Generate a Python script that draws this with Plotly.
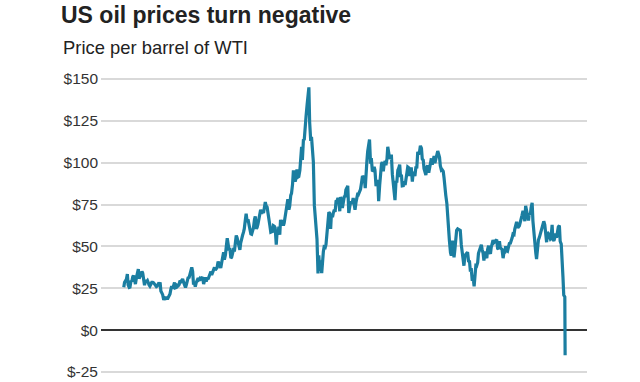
import plotly.graph_objects as go

# Semi-monthly WTI prices (USD/barrel), values on the 15th and 28th of each month
y2000 = [25.6, 28.5, 29.5, 30.4, 33.5, 27.0, 25.5, 25.7, 29.5, 29.0, 32.0, 32.5, 30.0, 27.5, 31.5, 33.0, 36.5, 30.8, 32.5, 34.5, 35.0, 34.0, 28.5, 26.8]
y2001 = [30.0, 28.7, 29.5, 27.4, 27.0, 26.3, 27.5, 28.5, 28.5, 28.3, 27.5, 26.3, 26.0, 26.3, 27.5, 27.2, 28.5, 23.4, 22.0, 21.2, 18.0, 19.4, 19.0, 19.8]
y2002 = [18.5, 19.5, 20.5, 21.6, 24.5, 26.3, 24.8, 27.3, 28.5, 25.3, 25.5, 26.8, 26.5, 27.0, 29.5, 28.9, 30.0, 30.5, 28.5, 27.2, 25.5, 26.9, 29.0, 31.2]
y2003 = [31.5, 33.5, 36.0, 37.5, 35.0, 28.0, 28.0, 26.0, 28.5, 29.5, 31.0, 30.2, 31.0, 30.5, 31.5, 31.6, 27.5, 29.2, 31.5, 29.1, 31.0, 30.4, 32.5, 32.5]
y2004 = [35.0, 33.0, 34.5, 36.2, 37.5, 35.8, 37.5, 37.4, 41.0, 39.9, 38.0, 37.1, 40.5, 43.8, 46.5, 42.1, 45.0, 49.6, 54.9, 51.8, 47.5, 49.1, 43.0, 43.5]
y2005 = [46.5, 48.2, 48.0, 51.8, 56.5, 55.4, 52.0, 49.7, 48.0, 51.9, 56.5, 56.5, 58.5, 60.6, 66.0, 69.5, 64.5, 66.2, 63.0, 59.8, 57.5, 57.3, 59.5, 61.0]
y2006 = [66.0, 67.9, 60.5, 61.4, 63.5, 66.6, 69.5, 71.9, 69.5, 71.3, 70.0, 73.9, 76.5, 74.4, 73.5, 70.3, 63.5, 62.9, 58.5, 58.7, 59.0, 62.4, 62.0, 61.1]
y2007 = [51.0, 58.1, 58.0, 61.8, 57.0, 65.9, 63.5, 65.7, 62.5, 64.0, 68.0, 70.7, 74.0, 78.2, 72.0, 74.0, 80.5, 81.7, 87.0, 94.5, 94.5, 88.7, 91.0, 96.0]
y2008 = [91.5, 91.8, 95.5, 101.8, 109.5, 101.6, 114.0, 113.5, 124.0, 127.4, 134.5, 140.0, 145.0, 124.1, 113.0, 115.5, 101.0, 100.6, 74.5, 67.8, 54.5, 54.4, 33.9, 44.6]
y2009 = [35.4, 41.7, 34.0, 44.8, 47.0, 49.7, 49.4, 51.1, 58.0, 66.3, 70.5, 69.9, 60.5, 69.5, 67.5, 69.9, 72.0, 70.6, 77.5, 77.0, 79.0, 77.3, 71.0, 79.4]
y2010 = [78.0, 72.9, 77.5, 79.7, 80.0, 83.8, 85.0, 86.2, 70.0, 74.0, 77.0, 75.6, 76.5, 78.9, 75.0, 71.9, 76.8, 79.9, 82.0, 81.4, 82.5, 84.1, 88.0, 91.4]
y2011 = [91.5, 92.2, 84.8, 97.0, 101.0, 106.7, 110.5, 113.9, 99.5, 102.7, 94.8, 95.4, 97.5, 95.7, 86.0, 88.8, 88.9, 77.0, 86.4, 93.2, 99.4, 100.4, 94.9, 98.8]
y2012 = [101.0, 98.5, 102.3, 109.5, 105.5, 103.0, 102.8, 104.9, 93.0, 86.5, 83.3, 77.7, 89.2, 88.1, 95.6, 96.5, 98.9, 92.2, 92.1, 86.2, 86.3, 88.9, 86.7, 91.8]
y2013 = [94.2, 97.5, 97.0, 92.1, 93.5, 97.2, 88.7, 93.5, 94.3, 92.0, 97.8, 96.6, 106.5, 105.0, 106.8, 110.1, 108.6, 102.3, 101.5, 96.4, 93.8, 92.7, 97.5, 98.4]
y2014 = [94.0, 97.5, 101.0, 102.6, 98.9, 101.6, 104.0, 99.7, 102.0, 102.7, 107.0, 105.4, 103.2, 98.2, 95.6, 95.9, 94.9, 91.2, 81.8, 80.5, 75.6, 66.2, 57.0, 53.3]
y2015 = [46.3, 44.5, 53.5, 49.8, 43.5, 47.6, 56.4, 59.6, 60.5, 60.3, 59.9, 59.5, 50.9, 47.1, 42.5, 38.5, 44.6, 45.1, 46.4, 46.6, 40.7, 41.7, 35.0, 37.0]
y2016 = [29.4, 32.0, 26.2, 33.8, 38.5, 38.3, 40.4, 45.9, 48.3, 49.1, 51.0, 48.3, 45.9, 41.6, 47.0, 44.7, 43.0, 48.2, 50.4, 46.9, 45.6, 49.4, 52.9, 53.7]
y2017 = [52.4, 52.8, 53.2, 54.0, 48.8, 48.4, 53.1, 49.3, 48.7, 48.3, 43.0, 46.0, 46.5, 50.2, 47.5, 47.2, 49.9, 51.7, 51.9, 54.4, 55.3, 57.4, 57.1, 60.4]
y2018 = [64.0, 64.7, 61.7, 61.6, 62.3, 64.9, 66.5, 68.6, 71.3, 67.0, 65.1, 74.2, 71.0, 68.8, 65.5, 69.8, 68.9, 73.2, 76.0, 65.3, 56.5, 50.9, 46.2, 42.5]
y2019 = [52.1, 53.8, 55.6, 57.2, 58.5, 60.1, 63.8, 65.0, 62.9, 56.5, 52.5, 58.5, 57.6, 56.0, 54.5, 55.1, 62.9, 54.1, 53.4, 55.0, 57.7, 55.2, 60.9, 61.7]
y2020 = [62.5, 53.1, 51.4, 44.8, 31.7, 21.0]

# Final days (April 2020)
apr2020_dates = ["2020-04-15", "2020-04-20"]
apr2020_values = [19.9, -15.0]

tick_values = [-25, 0, 25, 50, 75, 100, 125, 150]
tick_labels = ["$-25", "$0", "$25", "$50", "$75", "$100", "$125", "$150"]

title_text = "US oil prices turn negative"
subtitle_text = "Price per barrel of WTI"

years = [
    (2000, y2000), (2001, y2001), (2002, y2002), (2003, y2003), (2004, y2004),
    (2005, y2005), (2006, y2006), (2007, y2007), (2008, y2008), (2009, y2009),
    (2010, y2010), (2011, y2011), (2012, y2012), (2013, y2013), (2014, y2014),
    (2015, y2015), (2016, y2016), (2017, y2017), (2018, y2018), (2019, y2019),
    (2020, y2020),
]

dates, prices = [], []
for yr, vals in years:
    for i, v in enumerate(vals):
        month = i // 2 + 1
        day = 15 if i % 2 == 0 else 28
        dates.append(f"{yr}-{month:02d}-{day:02d}")
        prices.append(v)
dates += apr2020_dates
prices += apr2020_values

LINE = "#1b7ea1"
FONT = "Liberation Sans, Arial, Helvetica, sans-serif"

fig = go.Figure()
fig.add_trace(go.Scatter(
    x=dates, y=prices, mode="lines",
    line=dict(color=LINE, width=3.2),
    hoverinfo="x+y", showlegend=False,
))

fig.update_layout(
    width=640, height=382,
    margin=dict(l=101, r=53, t=75, b=6, autoexpand=False),
    paper_bgcolor="white", plot_bgcolor="white",
    font=dict(family=FONT, color="#333333"),
    title=dict(
        text=f"<b>{title_text}</b>",
        font=dict(size=23, color="#222222", family=FONT),
        xref="container", yref="container",
        x=61 / 640, xanchor="left",
        y=1 - 7 / 382, yanchor="top",
        automargin=False,
    ),
    annotations=[dict(
        text=subtitle_text, showarrow=False,
        xref="paper", yref="paper",
        x=(61 - 101) / 486, xanchor="left",
        y=(376 - 35) / 301, yanchor="top",
        font=dict(size=18.4, color="#222222", family=FONT),
    )],
    xaxis=dict(
        range=["1998-12-29", "2021-04-22"],
        showgrid=False, showticklabels=False, showline=False,
        zeroline=False, ticks="", automargin=False,
    ),
    yaxis=dict(
        range=[-27.4, 152.4],
        tickvals=tick_values, ticktext=tick_labels,
        showgrid=True, gridcolor="#d9d9d9", gridwidth=1.5,
        zeroline=True, zerolinecolor="#333333", zerolinewidth=2,
        showline=False, ticks="", automargin=False,
        ticklabelstandoff=2,
        tickfont=dict(size=15.5, color="#333333", family=FONT),
    ),
)

fig.write_html(
    "out.html",
    config={"displayModeBar": False},
    post_script="document.body.style.margin='0';",
)
